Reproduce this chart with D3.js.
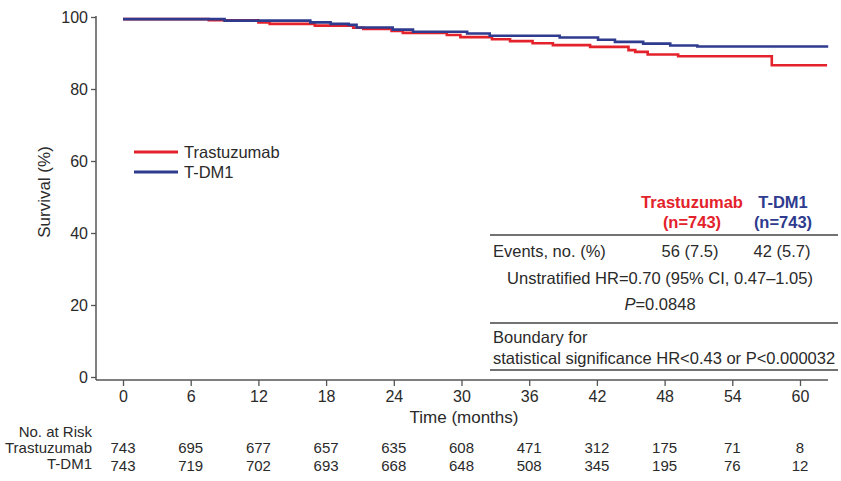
<!DOCTYPE html>
<html>
<head>
<meta charset="utf-8">
<script src="https://cdn.jsdelivr.net/npm/d3@7"></script>
<style>
  body { margin: 0; background: #fff; }
  text { font-family: "Liberation Sans", Arial, sans-serif; fill: #2a2a2a; }
</style>
</head>
<body>
<div id="chart"></div>
<script>
// Kaplan-Meier steps (months, survival %)
var trastuzumabTimes = [0, 7.6, 12.0, 13.0, 17.0, 20.4, 21.3, 23.8, 24.8, 28.7, 29.9, 32.7, 34.3, 36.3, 38.1, 41.4, 44.8, 45.4, 46.5, 49.2, 57.5, 62.4];
var trastuzumabSurv  = [99.4, 99.1, 98.5, 98.1, 97.6, 97.0, 96.7, 96.1, 95.6, 95.0, 94.4, 93.8, 93.3, 92.7, 92.2, 91.7, 90.8, 90.3, 89.6, 89.1, 86.6, 86.6];

var tdm1Times = [0, 9.0, 16.6, 18.4, 20.0, 20.7, 23.9, 25.7, 30.5, 32.5, 38.7, 42.1, 43.6, 46.1, 48.5, 50.9, 62.5];
var tdm1Surv  = [99.4, 99.0, 98.5, 98.1, 97.8, 97.1, 96.5, 95.9, 95.4, 94.8, 94.3, 93.7, 93.1, 92.6, 92.1, 91.8, 91.8];

var months = [0, 6, 12, 18, 24, 30, 36, 42, 48, 54, 60];
var yTicks = [0, 20, 40, 60, 80, 100];
var riskTrastuzumab = [743, 695, 677, 657, 635, 608, 471, 312, 175, 71, 8];
var riskTDM1 = [743, 719, 702, 693, 668, 648, 508, 345, 195, 76, 12];

var red = "#e3222b", blue = "#2e3b8e";

var width = 841, height = 481;

var svg = d3.select("#chart")
    .append("svg")
    .attr("width", width)
    .attr("height", height);

var x = d3.scaleLinear().domain([0, 60]).range([123, 800]);
var y = d3.scaleLinear().domain([0, 100]).range([377, 17]);

// axes
var axisColor = "#555";
var yAxis = svg.append("g")
    .attr("transform", "translate(96,0)")
    .call(d3.axisLeft(y).tickValues(yTicks).tickSize(5).tickSizeOuter(0).tickPadding(3));
yAxis.select(".domain").remove();
yAxis.selectAll("line").attr("stroke", axisColor).attr("stroke-width", 1.3);
yAxis.selectAll("text").style("font-size", "16px").style("font-family", "Liberation Sans, Arial").attr("fill", "#2a2a2a");

var xAxis = svg.append("g")
    .attr("transform", "translate(0,380)")
    .call(d3.axisBottom(x).tickValues(months).tickSize(6).tickSizeOuter(0).tickPadding(5));
xAxis.select(".domain").remove();
xAxis.selectAll("line").attr("stroke", axisColor).attr("stroke-width", 1.3);
xAxis.selectAll("text").style("font-size", "16px").style("font-family", "Liberation Sans, Arial").attr("fill", "#2a2a2a");

svg.append("line")
    .attr("x1", 96).attr("x2", 96).attr("y1", y(100) - 1).attr("y2", 380)
    .attr("stroke", axisColor).attr("stroke-width", 1.5);
svg.append("line")
    .attr("x1", 96).attr("x2", 828).attr("y1", 380).attr("y2", 380)
    .attr("stroke", axisColor).attr("stroke-width", 1.5);

svg.append("text")
    .attr("transform", "translate(50,192) rotate(-90)")
    .attr("text-anchor", "middle")
    .style("font-size", "17px")
    .text("Survival (%)");

svg.append("text")
    .attr("x", 464).attr("y", 423)
    .attr("text-anchor", "middle")
    .style("font-size", "17px")
    .text("Time (months)");

// curves
var line = d3.line()
    .x(function (d) { return x(d[0]); })
    .y(function (d) { return y(d[1]); })
    .curve(d3.curveStepAfter);

svg.append("path")
    .datum(d3.zip(trastuzumabTimes, trastuzumabSurv))
    .attr("d", line)
    .attr("fill", "none")
    .attr("stroke", red)
    .attr("stroke-width", 2.6);

svg.append("path")
    .datum(d3.zip(tdm1Times, tdm1Surv))
    .attr("d", line)
    .attr("fill", "none")
    .attr("stroke", blue)
    .attr("stroke-width", 2.6);

// legend
var legend = [["Trastuzumab", red], ["T-DM1", blue]];
legend.forEach(function (d, i) {
    var ly = 152 + i * 20;
    svg.append("line")
        .attr("x1", 134).attr("x2", 178).attr("y1", ly).attr("y2", ly)
        .attr("stroke", d[1]).attr("stroke-width", 3);
    svg.append("text")
        .attr("x", 184).attr("y", ly + 6)
        .style("font-size", "16.5px")
        .text(d[0]);
});

// stats table
var t = svg.append("g").style("font-size", "16.5px");
t.append("text").attr("x", 692).attr("y", 208).attr("text-anchor", "middle")
    .style("font-weight", "bold").style("fill", red).text("Trastuzumab");
t.append("text").attr("x", 692).attr("y", 228).attr("text-anchor", "middle")
    .style("font-weight", "bold").style("fill", red).text("(n=743)");
t.append("text").attr("x", 783).attr("y", 208).attr("text-anchor", "middle")
    .style("font-weight", "bold").style("fill", blue).text("T-DM1");
t.append("text").attr("x", 783).attr("y", 228).attr("text-anchor", "middle")
    .style("font-weight", "bold").style("fill", blue).text("(n=743)");

[235, 323, 370].forEach(function (ly) {
    t.append("line").attr("x1", 490).attr("x2", 838).attr("y1", ly).attr("y2", ly)
        .attr("stroke", "#444").attr("stroke-width", 1.3);
});

t.append("text").attr("x", 493).attr("y", 257).text("Events, no. (%)");
t.append("text").attr("x", 690).attr("y", 257).attr("text-anchor", "middle").text("56 (7.5)");
t.append("text").attr("x", 782).attr("y", 257).attr("text-anchor", "middle").text("42 (5.7)");
t.append("text").attr("x", 660).attr("y", 284).attr("text-anchor", "middle")
    .text("Unstratified HR=0.70 (95% CI, 0.47\u20131.05)");
var p = t.append("text").attr("x", 660).attr("y", 310).attr("text-anchor", "middle");
p.append("tspan").style("font-style", "italic").text("P");
p.append("tspan").text("=0.0848");
t.append("text").attr("x", 493).attr("y", 343).text("Boundary for");
t.append("text").attr("x", 493).attr("y", 364).text("statistical significance HR<0.43 or P<0.000032");

// number at risk
var r = svg.append("g").style("font-size", "15px");
r.append("text").attr("x", 92).attr("y", 437).attr("text-anchor", "end").text("No. at Risk");
r.append("text").attr("x", 92).attr("y", 453).attr("text-anchor", "end").text("Trastuzumab");
r.append("text").attr("x", 92).attr("y", 469).attr("text-anchor", "end").text("T-DM1");

r.selectAll(".risk-tr")
    .data(riskTrastuzumab)
    .enter()
    .append("text")
    .attr("class", "risk-tr")
    .attr("x", function (d, i) { return x(months[i]); })
    .attr("y", 453)
    .attr("text-anchor", "middle")
    .text(function (d) { return d; });

r.selectAll(".risk-td")
    .data(riskTDM1)
    .enter()
    .append("text")
    .attr("class", "risk-td")
    .attr("x", function (d, i) { return x(months[i]); })
    .attr("y", 471)
    .attr("text-anchor", "middle")
    .text(function (d) { return d; });
</script>
</body>
</html>
